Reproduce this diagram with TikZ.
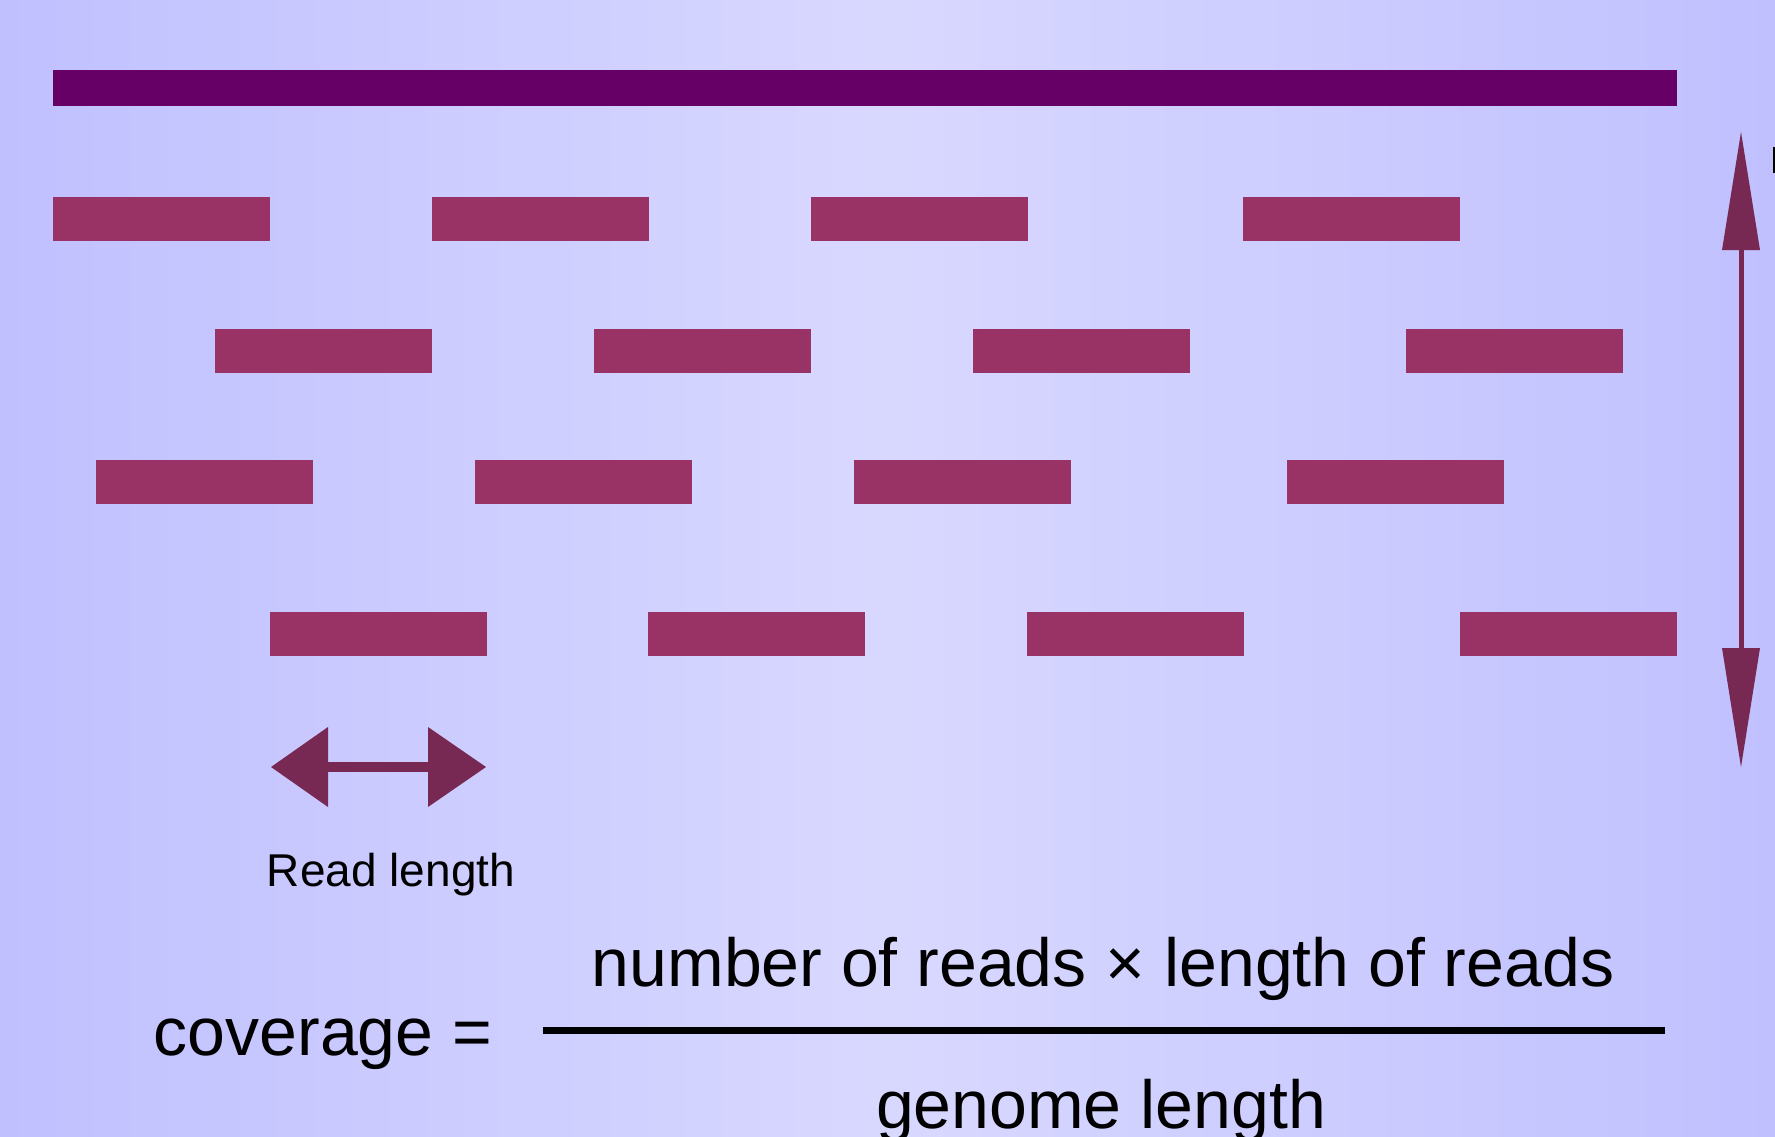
\documentclass[tikz,border=0pt]{standalone}
\usepackage{fontspec}
\setmainfont{Liberation Sans}
\usetikzlibrary{calc}
\definecolor{bgedge}{RGB}{192,192,255}
\definecolor{bgmid}{RGB}{216,216,255}
\definecolor{genomec}{RGB}{102,0,102}
\definecolor{readc}{RGB}{153,51,102}
\definecolor{arrowc}{RGB}{119,41,83}
\tikzset{
  genomebar/.style={fill=genomec, inner sep=0pt, minimum width=1624pt, minimum height=36pt, anchor=north west},
  readbox/.style={fill=readc, inner sep=0pt, minimum width=217pt, minimum height=44pt, anchor=north west},
  bigtext/.style={font=\fontsize{68}{80}\selectfont, inner sep=0pt, anchor=base},
  smalltext/.style={font=\fontsize{46}{55}\selectfont, inner sep=0pt, anchor=base},
  shaft/.style={draw=arrowc},
  head/.style={fill=arrowc}
}
\begin{document}
\begin{tikzpicture}[x=1pt,y=-1pt]
\useasboundingbox (0,0) rectangle (1775,1137);
\shade[left color=bgedge, right color=bgedge, middle color=bgmid] (0,0) rectangle (1775,1137);

% genome
\node[genomebar] (genome) at (53,70) {};

% reads
\foreach \x [count=\i] in {53,432,811,1243} \node[readbox] (ra\i) at (\x,197) {};
\foreach \x [count=\i] in {215,594,973,1406} \node[readbox] (rb\i) at (\x,329) {};
\foreach \x [count=\i] in {96,475,854,1287} \node[readbox] (rc\i) at (\x,460) {};
\foreach \x [count=\i] in {270,648,1027,1460} \node[readbox] (rd\i) at (\x,612) {};

% vertical (depth) arrow
\coordinate (vt) at (1741,132);
\coordinate (vb) at (1741,767);
\draw[shaft, line width=5pt] ($(vt)+(0,110)$) -- ($(vb)+(0,-110)$);
\fill[head] (vt) -- ($(vt)+(19,118)$) -- ($(vt)+(-19,118)$) -- cycle;
\fill[head] (vb) -- ($(vb)+(19,-119)$) -- ($(vb)+(-19,-119)$) -- cycle;

% read length arrow
\coordinate (hl) at (271,767);
\coordinate (hr) at (486,767);
\draw[shaft, line width=10pt] ($(hl)+(50,0)$) -- ($(hr)+(-50,0)$);
\fill[head] (hl) -- ($(hl)+(57,-40)$) -- ($(hl)+(57,40)$) -- cycle;
\fill[head] (hr) -- ($(hr)+(-58,-40)$) -- ($(hr)+(-58,40)$) -- cycle;
\node[smalltext] (rl) at (391,886) {Read length};

% clipped mark at right edge
\fill[black] (1773,147) rectangle (1775,173);

% formula
\node[bigtext] (cov) at (323,1055) {coverage =};
\node[bigtext] (num) at (1103,986) {number of reads × length of reads};
\node[bigtext] (den) at (1101,1128) {genome length};
\coordinate (fl) at (543,1030);
\coordinate (fr) at (1665,1030);
\draw[line width=7pt] (fl) -- (fr);
\end{tikzpicture}
\end{document}
